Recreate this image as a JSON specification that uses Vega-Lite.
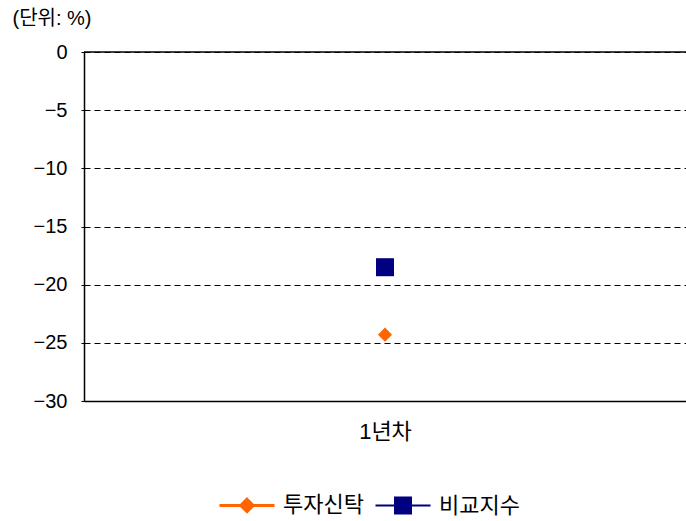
{
  "$schema": "https://vega.github.io/schema/vega-lite/v6.json",
  "width": 602,
  "height": 349,
  "autosize": "none",
  "padding": {"left": 84, "top": 52, "right": 0, "bottom": 120},
  "background": "white",
  "config": {
    "font": "Liberation Sans, Noto Sans CJK KR",
    "view": {"stroke": null}
  },
  "data": {
    "values": [
      {"period": "1년차", "series": "투자신탁", "value": -24.3},
      {"period": "1년차", "series": "비교지수", "value": -18.5}
    ]
  },
  "encoding": {
    "x": {
      "field": "period",
      "type": "nominal",
      "title": null,
      "axis": {
        "labelAngle": 0,
        "labelFontSize": 22,
        "labelColor": "#000",
        "labelPadding": 20,
        "ticks": false,
        "domainColor": "#000",
        "domainWidth": 1.5
      }
    },
    "y": {
      "field": "value",
      "type": "quantitative",
      "scale": {"domain": [-30, 0], "nice": false},
      "axis": {
        "values": [0, -5, -10, -15, -20, -25, -30],
        "labelFontSize": 20,
        "labelColor": "#000",
        "labelPadding": 14,
        "tickSize": 3,
        "tickColor": "#000",
        "domainColor": "#000",
        "domainWidth": 1.5,
        "grid": true,
        "gridColor": "#000",
        "gridDash": [6, 4],
        "gridWidth": 1,
        "title": "(단위: %)",
        "titleAngle": 0,
        "titleAlign": "left",
        "titleBaseline": "middle",
        "titleX": -72,
        "titleY": -34,
        "titleFontSize": 20,
        "titleFontWeight": "normal",
        "titleColor": "#000"
      }
    }
  },
  "layer": [
    {
      "mark": {"type": "rule", "color": "#000", "strokeWidth": 1.5},
      "data": {"values": [{"z": 0}]},
      "encoding": {"y": {"field": "z", "type": "quantitative"}, "x": null}
    },
    {
      "mark": {"type": "point", "filled": true, "opacity": 1},
      "encoding": {
        "color": {
          "field": "series",
          "type": "nominal",
          "scale": {"domain": ["투자신탁", "비교지수"], "range": ["#FF6600", "#000080"]},
          "legend": null
        },
        "shape": {
          "field": "series",
          "type": "nominal",
          "scale": {"domain": ["투자신탁", "비교지수"], "range": ["diamond", "square"]},
          "legend": null
        },
        "size": {
          "field": "series",
          "type": "nominal",
          "scale": {"domain": ["투자신탁", "비교지수"], "range": [200, 324]},
          "legend": null
        }
      }
    },
    {
      "mark": {"type": "point", "filled": true, "opacity": 0},
      "encoding": {
        "color": {
          "field": "series",
          "type": "nominal",
          "scale": {"domain": ["투자신탁", "비교지수"], "range": ["#FF6600", "#000080"]},
          "legend": {
            "title": null,
            "orient": "none",
            "direction": "horizontal",
            "legendX": 152,
            "legendY": 442,
            "labelFontSize": 22,
            "labelColor": "#000",
            "labelOffset": 25,
            "columnPadding": 7,
            "symbolSize": 400,
            "symbolOpacity": 1,
            "encode": {
              "symbols": {
                "update": {
                  "size": {"value": 400},
                  "stroke": {"signal": "datum.value === '투자신탁' ? '#FF6600' : '#000080'"},
                  "fill": {"signal": "datum.value === '투자신탁' ? '#FF6600' : '#000080'"},
                  "strokeWidth": {"signal": "datum.value === '투자신탁' ? 3 : 2"},
                  "opacity": {"value": 1}
                }
              }
            }
          }
        },
        "shape": {
          "field": "series",
          "type": "nominal",
          "scale": {
            "domain": ["투자신탁", "비교지수"],
            "range": [
              "M-2.75,0H2.75M0,-0.62L0.62,0L0,0.62L-0.62,0Z",
              "M-2.75,0H2.75M-0.8,-0.8H0.8V0.8H-0.8Z"
            ]
          }
        }
      }
    }
  ],
  "resolve": {"scale": {"shape": "independent", "size": "independent"}, "legend": {"color": "independent", "shape": "independent"}}
}
